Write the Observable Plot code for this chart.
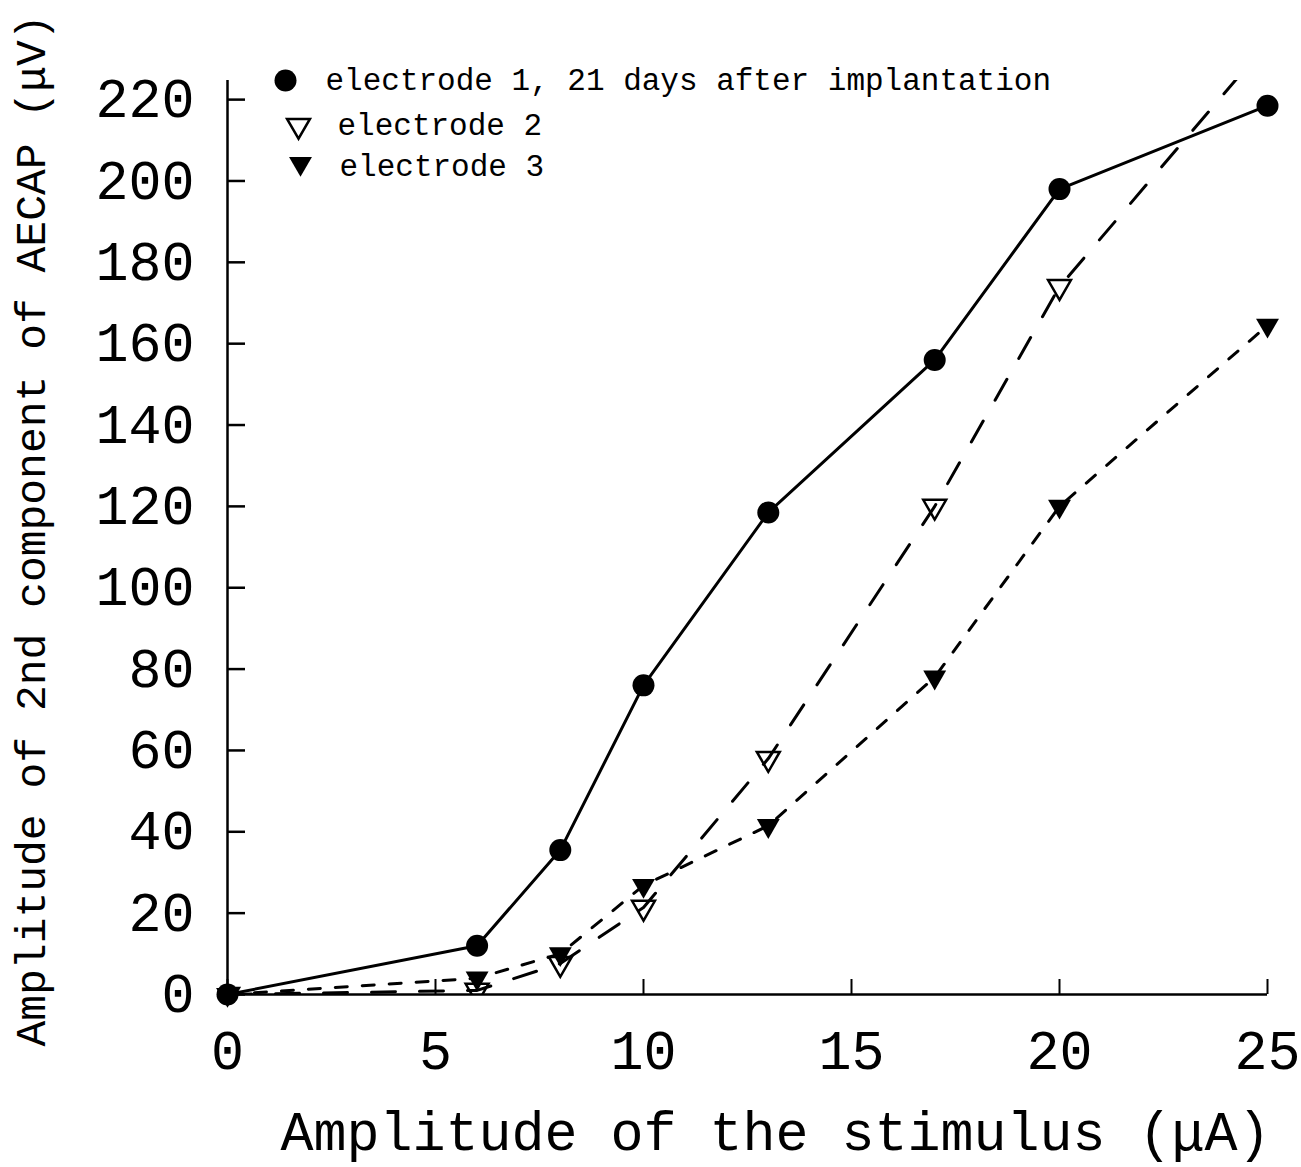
<!DOCTYPE html>
<html><head><meta charset="utf-8">
<script src="https://cdn.jsdelivr.net/npm/d3@7"></script>
<script src="https://cdn.jsdelivr.net/npm/@observablehq/plot@0.6"></script>
<style>html,body{margin:0;padding:0;background:#fff}</style>
</head><body><div id="chart"></div>
<script>
// ---- data ----
const stimulus   = [0, 6, 8, 10, 13, 17, 20, 25];
const electrode1 = [0, 12, 35.5, 76, 118.5, 156, 198, 218.5];
const electrode2 = [0, 1, 7.6, 21.4, 58, 120, 174, 234];
const electrode3 = [0, 4, 10, 26.8, 41.5, 78, 120, 164.5];
const seriesNames = ["electrode 1, 21 days after implantation", "electrode 2", "electrode 3"];
const xTicks = [0, 5, 10, 15, 20, 25];
const yTicks = [0, 20, 40, 60, 80, 100, 120, 140, 160, 180, 200, 220];
const xLabel = "Amplitude of the stimulus (μA)";
const yLabel = "Amplitude of 2nd component of AECAP (μV)";
const yMax = 224.7;

const rows = (vals) => stimulus.map((s, i) => ({x: s, y: vals[i]}));
const d1 = rows(electrode1), d2 = rows(electrode2), d3r = rows(electrode3);

const font = "'Liberation Mono', 'DejaVu Sans Mono', monospace";

const chart = Plot.plot({
  width: 1301, height: 1167,
  marginLeft: 227, marginRight: 34, marginTop: 80, marginBottom: 173,
  style: {fontFamily: font, background: "white", color: "black"},
  x: {domain: [0, 25]},
  y: {domain: [0, yMax]},
  marks: [
    Plot.axisX(xTicks, {tickSize: -15, tickPadding: 50, fontSize: 55, label: null, strokeWidth: 2, tickFormat: d => String(d)}),
    Plot.axisY(yTicks, {tickSize: 0, tickPadding: 33, fontSize: 55, label: null, tickFormat: d => String(d)}),
    // inward-pointing y ticks (short rules starting at the axis)
    Plot.tickY(yTicks, {y: d => d, insetRight: 1022, strokeWidth: 2.5, stroke: "black"}),
    Plot.ruleX([0], {strokeWidth: 2.5}),
    Plot.ruleY([0], {strokeWidth: 2.5}),
    Plot.line(d1, {x: "x", y: "y", stroke: "black", strokeWidth: 3}),
    Plot.line(d2, {x: "x", y: "y", stroke: "black", strokeWidth: 3, strokeDasharray: "24,24", clip: true}),
    Plot.line(d3r, {x: "x", y: "y", stroke: "black", strokeWidth: 3, strokeDasharray: "12,15"}),
    Plot.dot(d2, {x: "x", y: "y", symbol: "triangle", rotate: 180, r: 8.5, fill: "none", stroke: "black", strokeWidth: 2.5, clip: true}),
    Plot.dot(d3r, {x: "x", y: "y", symbol: "triangle", rotate: 180, r: 8.5, fill: "black", stroke: "none"}),
    Plot.dot(d1, {x: "x", y: "y", symbol: "circle", r: 11, fill: "black"}),
    // legend
    Plot.dot([seriesNames[0]], {frameAnchor: "top-left", dx: 58, dy: 0, symbol: "circle", r: 11, fill: "black"}),
    Plot.dot([seriesNames[1]], {frameAnchor: "top-left", dx: 71, dy: 45, symbol: "triangle", rotate: 180, r: 8.5, fill: "none", stroke: "black", strokeWidth: 2.5}),
    Plot.dot([seriesNames[2]], {frameAnchor: "top-left", dx: 73, dy: 83, symbol: "triangle", rotate: 180, r: 8.5, fill: "black", stroke: "none"}),
    Plot.text([seriesNames[0]], {text: d => d, frameAnchor: "top-left", dx: 98, dy: 0, fontSize: 31, textAnchor: "start", lineAnchor: "middle"}),
    Plot.text([seriesNames[1]], {text: d => d, frameAnchor: "top-left", dx: 110, dy: 45, fontSize: 31, textAnchor: "start", lineAnchor: "middle"}),
    Plot.text([seriesNames[2]], {text: d => d, frameAnchor: "top-left", dx: 112, dy: 86, fontSize: 31, textAnchor: "start", lineAnchor: "middle"}),
    // axis titles
    Plot.text([xLabel], {text: d => d, frameAnchor: "bottom", dx: 28, dy: 138, fontSize: 55, textAnchor: "middle", lineAnchor: "middle"}),
    Plot.text([yLabel], {text: d => d, frameAnchor: "left", dx: -196, dy: -7, fontSize: 43, rotate: -90, textAnchor: "middle", lineAnchor: "middle"})
  ]
});
document.getElementById("chart").appendChild(chart);
</script>
</body></html>
